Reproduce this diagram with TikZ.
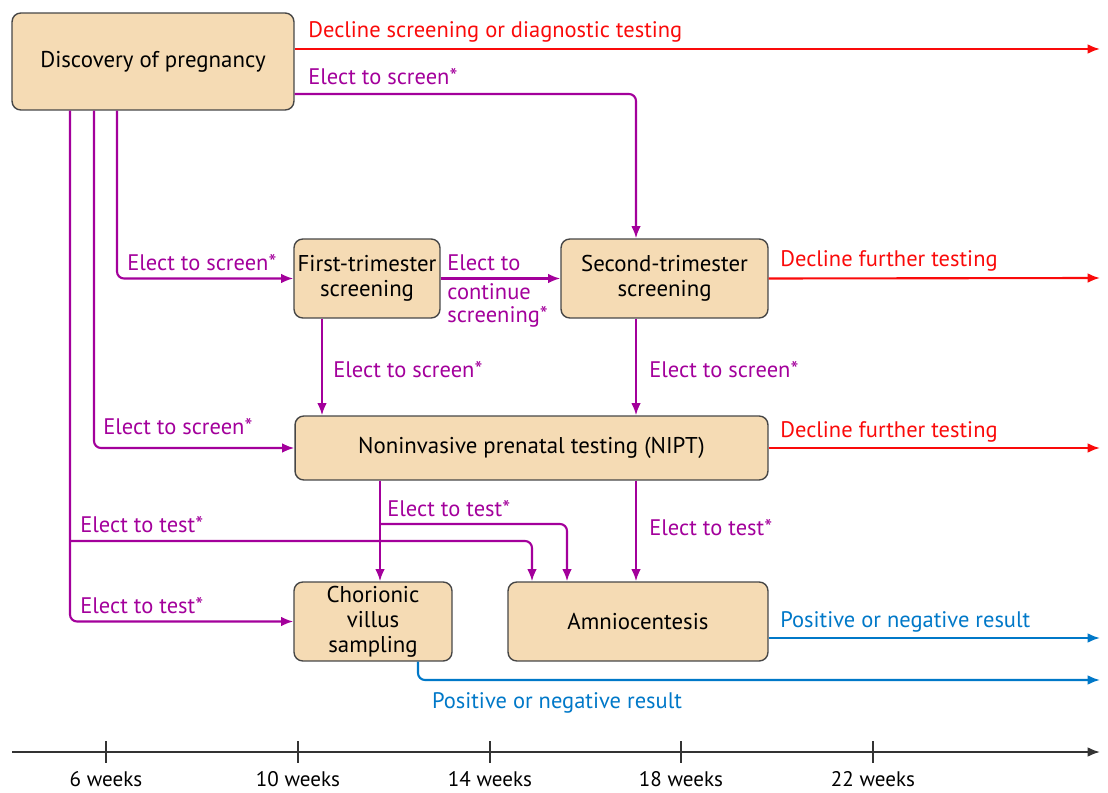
\documentclass[tikz,border=0pt]{standalone}
\usepackage{fontspec}
\setmainfont{PT Sans}
\usetikzlibrary{arrows.meta}

\definecolor{boxfill}{RGB}{245,219,180}
\definecolor{boxline}{RGB}{70,70,70}
\definecolor{elect}{RGB}{163,0,155}
\definecolor{decline}{RGB}{250,10,10}
\definecolor{result}{RGB}{0,120,200}

\begin{document}
\begin{tikzpicture}[x=0.02cm,y=-0.02cm,
  stage/.style={draw=boxline,fill=boxfill,line width=0.8pt,rounded corners=5pt,
    align=center,inner sep=0pt,font=\fontsize{13}{14.2}\selectfont},
  flow/.style={line width=1.2pt,-{Latex[length=7pt,width=5.5pt]},rounded corners=4pt},
  lbl/.style={font=\fontsize{12.8}{13.2}\selectfont,inner sep=0pt,anchor=west,align=left}]
\useasboundingbox (0,0) rectangle (1108,793);

% stages
\node[stage,minimum width=5.64cm,minimum height=1.94cm] (disc) at (153,61.5) {Discovery of pregnancy};
\node[stage,minimum width=2.92cm,minimum height=1.58cm] (first) at (367,278.5) {First-trimester\\screening};
\node[stage,minimum width=4.14cm,minimum height=1.58cm] (second) at (664.5,278.5) {Second-trimester\\screening};
\node[stage,minimum width=9.46cm,minimum height=1.28cm] (nipt) at (531.5,448) {Noninvasive prenatal testing (NIPT)};
\node[stage,minimum width=3.16cm,minimum height=1.58cm] (cvs) at (373,621.5) {Chorionic\\villus\\sampling};
\node[stage,minimum width=5.2cm,minimum height=1.58cm] (amnio) at (638,621.5) {Amniocentesis};

% free ends
\coordinate (endA) at (1100,49);
\coordinate (endB) at (1100,278);
\coordinate (endC) at (1100,448);
\coordinate (endD) at (1100,638);
\coordinate (endE) at (1100,680);
\coordinate (split) at (70,541);
\coordinate (fork) at (380,524);

% elect to screen / test
\draw[flow,elect] (disc.east |- 0,94) -| (second.north -| 636,0);
\draw[flow,elect] (disc.south -| 117,0) |- (first.west);
\draw[flow,elect] (disc.south -| 94,0) |- (nipt.west);
\draw[flow,elect] (disc.south -| 70,0) |- (cvs.west);
\draw[flow,elect] (split) -| (amnio.north -| 532,0);
\draw[flow,elect] (first.east) -- (second.west);
\draw[flow,elect] (first.south -| 322,0) -- (nipt.north -| 322,0);
\draw[flow,elect] (second.south -| 636,0) -- (nipt.north -| 636,0);
\draw[flow,elect] (nipt.south -| 380,0) -- (cvs.north -| 380,0);
\draw[flow,elect] (fork) -| (amnio.north -| 567,0);
\draw[flow,elect] (nipt.south -| 636,0) -- (amnio.north -| 636,0);

% decline
\draw[flow,decline] (disc.east |- endA) -- (endA);
\draw[flow,decline] (second.east) -- (endB);
\draw[flow,decline] (nipt.east) -- (endC);

% results
\draw[flow,result] (amnio.east |- endD) -- (endD);
\draw[flow,result] (cvs.south -| 418,0) |- (endE);

% labels
\node[lbl,text=decline] at (308,32) {Decline screening or diagnostic testing};
\node[lbl,text=elect] at (308,77) {Elect to screen*};
\node[lbl,text=elect] at (127,263) {Elect to screen*};
\node[lbl,text=elect] at (447,263) {Elect to};
\node[lbl,text=elect] at (447,305.5) {continue\\screening*};
\node[lbl,text=decline] at (780,261) {Decline further testing};
\node[lbl,text=elect] at (333,370) {Elect to screen*};
\node[lbl,text=elect] at (649,370) {Elect to screen*};
\node[lbl,text=elect] at (103,427) {Elect to screen*};
\node[lbl,text=decline] at (780,432) {Decline further testing};
\node[lbl,text=elect] at (387,509) {Elect to test*};
\node[lbl,text=elect] at (80,525) {Elect to test*};
\node[lbl,text=elect] at (649,528) {Elect to test*};
\node[lbl,text=elect] at (80,606) {Elect to test*};
\node[lbl,text=result] at (780,622) {Positive or negative result};
\node[lbl,text=result,anchor=center] at (557,703) {Positive or negative result};

% timeline
\draw[line width=1.2pt,draw=black!80,-{Latex[length=7pt,width=5.5pt]}] (12,752) -- (1100,752);
\foreach \x/\w in {106/6,298/10,490/14,681/18,873/22}
  {\draw[line width=0.8pt,draw=black!80] (\x,741) -- (\x,763);
   \node[font=\fontsize{12}{13}\selectfont] at (\x,779) {\w\ weeks};}
\end{tikzpicture}
\end{document}
